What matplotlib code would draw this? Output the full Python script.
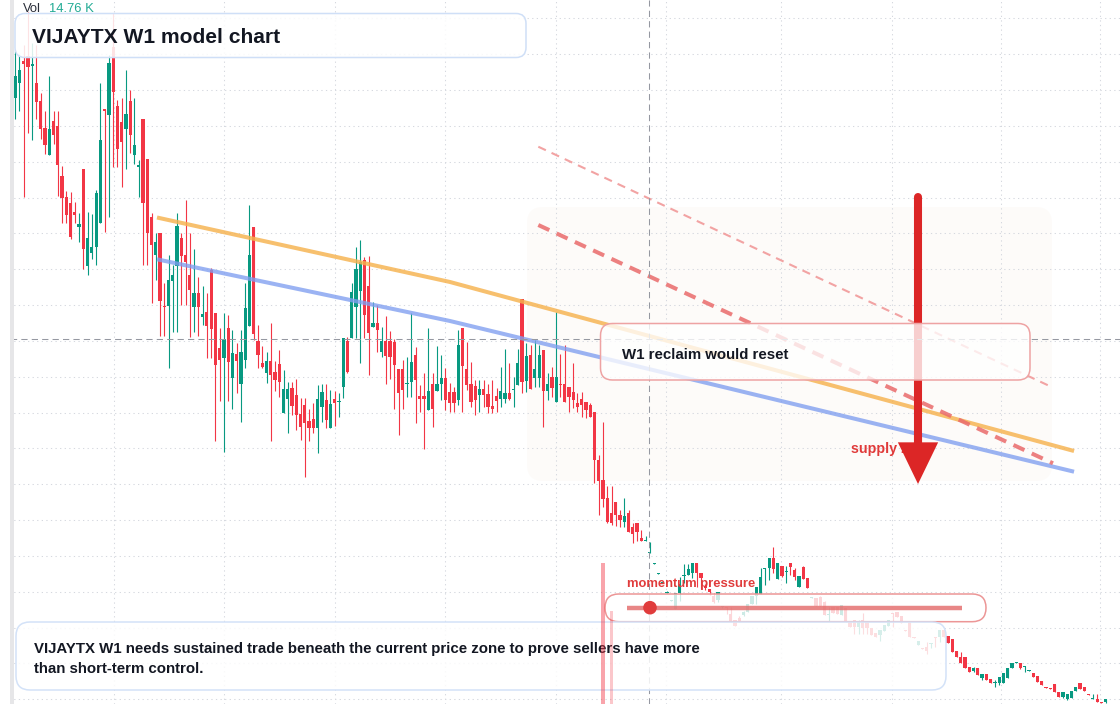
import numpy as np
import matplotlib
matplotlib.use("Agg")
import matplotlib.pyplot as plt
from matplotlib.patches import FancyBboxPatch, Rectangle, Circle, FancyArrowPatch
from matplotlib.colors import to_rgba

# ---------------- data (weekly candles, arbitrary price units) ----------------
opens = [62.2, 63.7, 65.9, 66.4, 65.4, 63.7, 61.9, 59.2, 56.5, 59.9,
         59.4, 54.4, 52.3, 51.7, 50.8, 49.3, 55.1, 45.4, 46.7, 47.3,
         49.7, 61.1, 60.5, 67.3, 61.4, 59.8, 59.1, 61.9, 56.5, 55.3,
         60.1, 56.1, 50.3, 46.5, 48.7, 41.4, 41.4, 43.9, 45.4, 48.2,
         46.5, 44.5, 41.3, 42.7, 40.3, 40.8, 45.0, 40.7, 37.2, 36.2,
         39.2, 34.2, 36.6, 33.6, 36.0, 39.4, 49.3, 37.9, 35.7, 34.7,
         35.9, 34.8, 35.6, 30.7, 32.1, 33.2, 32.5, 30.6, 31.5, 29.9,
         30.1, 29.2, 31.3, 32.0, 29.2, 32.1, 31.8, 33.3, 37.9, 38.2,
         41.3, 42.9, 46.0, 43.4, 39.3, 39.7, 36.8, 37.9, 37.9, 37.8,
         35.1, 35.1, 33.6, 33.8, 36.5, 32.4, 32.4, 31.0, 33.6, 32.9,
         33.6, 34.2, 32.8, 32.8, 32.0, 39.2, 35.1, 33.6, 33.4, 32.5,
         33.1, 32.6, 31.4, 32.4, 32.1, 32.1, 32.7, 33.0, 33.5, 42.1,
         33.9, 36.5, 34.2, 34.2, 37.0, 32.9, 34.3, 31.8, 33.6, 33.6,
         33.3, 32.8, 31.7, 32.1, 31.8, 31.5, 30.8, 26.0, 24.0, 22.2,
         20.7, 21.8, 20.5, 19.8, 20.7, 19.3, 19.7, 18.2, 17.9, 16.7,
         15.6, 14.6, 13.7, 12.7, 11.9, 11.1, 12.7, 14.4, 14.5, 14.7,
         15.7, 14.7, 13.4, 13.1, 12.4, 12.0, 11.3, 11.3, 10.6, 10.0,
         10.2, 10.5, 10.8, 11.6, 12.4, 12.6, 15.1, 15.2, 16.2, 14.1,
         15.4, 14.8, 15.7, 15.0, 13.3, 15.3, 14.2, 12.2, 12.2, 12.3,
         11.8, 10.5, 11.3, 11.3, 10.5, 11.2, 9.8, 10.0, 9.3, 10.0,
         9.9, 9.2, 8.7, 8.5, 8.9, 9.4, 10.7, 10.8, 10.4, 9.0,
         9.8, 8.3, 7.5, 7.2, 7.3, 7.6, 8.3, 8.3, 9.0, 8.4,
         8.1, 6.9, 6.3, 6.3, 5.3, 4.9, 5.2, 4.2, 4.6, 4.1,
         3.7, 3.7, 3.7, 4.2, 5.2, 5.7, 5.7, 5.3, 4.9, 4.7,
         4.4, 3.9, 3.3, 3.2, 3.6, 2.8, 2.3, 2.1, 2.2, 2.9,
         3.7, 3.3, 2.6, 2.1, 2.1, 1.8, 1.8]

highs = [67.0, 66.5, 67.5, 70.8, 67.7, 67.5, 62.7, 60.9, 64.4, 60.9,
         60.9, 55.4, 52.9, 52.8, 51.8, 50.7, 55.1, 50.8, 50.6, 53.0,
         63.7, 61.1, 66.5, 70.7, 62.0, 62.2, 65.0, 63.0, 62.2, 56.0,
         60.1, 56.1, 50.7, 48.7, 48.7, 43.7, 46.5, 45.5, 50.7, 48.7,
         52.0, 48.7, 47.1, 44.3, 43.4, 42.7, 45.2, 40.7, 39.2, 40.7,
         40.5, 39.0, 37.7, 39.0, 43.7, 51.5, 49.3, 39.5, 37.4, 36.8,
         39.7, 35.9, 37.0, 35.0, 33.8, 33.8, 34.1, 32.2, 32.2, 31.1,
         31.7, 33.5, 33.6, 33.6, 33.0, 32.9, 32.7, 38.2, 38.3, 43.7,
         47.3, 48.0, 46.3, 46.4, 41.8, 41.5, 39.3, 40.4, 38.9, 38.1,
         35.1, 36.0, 36.3, 40.7, 37.3, 33.5, 34.7, 39.2, 34.7, 37.4,
         36.5, 35.2, 33.7, 33.3, 39.0, 39.2, 37.8, 35.8, 34.0, 34.0,
         34.0, 33.6, 34.0, 33.2, 35.3, 37.1, 35.7, 34.3, 37.1, 42.1,
         37.7, 37.5, 38.0, 37.5, 37.0, 34.7, 35.3, 40.8, 36.6, 37.5,
         33.3, 35.7, 32.7, 32.8, 31.8, 31.7, 30.8, 26.5, 29.8, 23.4,
         23.4, 21.8, 21.0, 22.2, 21.0, 19.7, 19.7, 19.0, 18.4, 17.8,
         15.7, 14.7, 13.8, 12.9, 12.0, 12.7, 14.3, 15.6, 15.6, 15.7,
         15.7, 14.7, 13.6, 13.1, 12.7, 12.8, 11.4, 11.3, 11.3, 10.0,
         10.4, 10.9, 11.6, 12.4, 13.3, 15.2, 15.2, 16.2, 17.3, 15.7,
         15.4, 15.4, 15.7, 15.2, 14.4, 15.4, 14.2, 12.3, 12.2, 12.4,
         11.9, 11.3, 11.3, 11.3, 11.5, 11.2, 9.8, 10.0, 10.0, 10.7,
         9.9, 9.2, 8.7, 9.0, 9.5, 10.0, 10.7, 10.8, 10.4, 9.0,
         9.8, 8.3, 7.9, 7.2, 7.8, 7.7, 8.3, 9.0, 9.0, 8.4,
         8.1, 6.9, 6.8, 6.3, 5.3, 5.3, 5.2, 4.6, 4.6, 4.1,
         4.0, 4.3, 4.7, 5.2, 5.7, 5.8, 5.7, 5.4, 5.0, 4.7,
         4.4, 3.9, 3.3, 3.2, 3.6, 2.8, 2.8, 2.6, 2.9, 3.3,
         3.7, 3.3, 2.6, 2.6, 2.6, 1.8, 2.1]

lows = [60.1, 60.9, 52.3, 58.7, 58.0, 60.1, 58.1, 56.6, 56.5, 57.6,
        52.4, 49.7, 49.7, 48.1, 49.7, 47.8, 45.1, 44.5, 46.1, 45.5,
        49.7, 48.8, 50.3, 55.3, 55.3, 53.3, 55.1, 56.7, 55.6, 52.3,
        45.5, 45.5, 41.7, 44.0, 38.4, 38.4, 35.2, 38.8, 38.8, 41.5,
        41.5, 38.3, 38.8, 38.4, 39.5, 36.2, 36.2, 27.9, 31.9, 26.8,
        31.9, 31.1, 32.7, 29.8, 35.2, 39.4, 38.0, 35.2, 35.2, 33.7,
        27.9, 32.9, 32.3, 30.7, 28.7, 30.5, 29.0, 28.0, 24.3, 27.9,
        28.7, 26.7, 29.8, 29.2, 29.2, 29.4, 30.3, 32.2, 34.7, 38.2,
        38.2, 35.7, 38.2, 34.5, 39.3, 36.8, 36.3, 33.6, 34.1, 31.1,
        28.5, 31.1, 32.3, 32.3, 29.7, 30.8, 27.1, 31.0, 29.3, 32.9,
        32.0, 31.0, 30.8, 30.8, 31.5, 30.8, 33.0, 31.3, 30.5, 30.8,
        31.3, 30.7, 30.7, 30.8, 31.3, 31.7, 32.0, 31.3, 33.5, 32.7,
        32.8, 33.1, 33.3, 33.3, 29.3, 32.0, 32.3, 31.8, 32.3, 31.8,
        30.8, 31.2, 30.8, 30.3, 30.2, 30.3, 23.7, 20.5, 21.3, 19.7,
        19.5, 19.4, 19.3, 19.3, 18.8, 17.7, 17.9, 17.9, 17.9, 16.7,
        15.6, 14.6, 13.7, 12.7, 11.9, 11.1, 11.9, 13.7, 14.5, 14.2,
        13.3, 13.1, 13.0, 12.5, 11.7, 11.8, 11.2, 10.6, 9.8, 9.4,
        9.8, 10.4, 10.8, 11.6, 11.6, 12.6, 13.5, 14.0, 14.7, 14.1,
        14.3, 13.7, 14.5, 14.0, 13.3, 14.1, 13.2, 12.2, 11.4, 11.4,
        10.5, 9.9, 10.7, 10.6, 10.5, 9.8, 9.3, 8.6, 8.6, 8.6,
        8.6, 8.5, 8.3, 7.9, 8.9, 9.4, 9.3, 10.3, 9.7, 8.9,
        8.3, 8.2, 7.5, 7.1, 6.6, 7.2, 7.3, 7.8, 8.3, 7.7,
        6.8, 6.3, 5.7, 5.2, 4.8, 4.8, 4.5, 4.0, 4.0, 3.7,
        3.3, 3.5, 3.7, 4.2, 5.2, 5.7, 5.1, 4.8, 4.9, 4.3,
        3.8, 3.5, 3.2, 3.1, 2.8, 2.3, 2.2, 2.0, 2.2, 2.9,
        3.1, 2.9, 2.5, 2.1, 1.8, 1.7, 1.7]

closes = [64.4, 65.0, 65.6, 65.3, 65.6, 61.8, 59.1, 57.5, 59.1, 58.5,
          55.5, 52.2, 50.5, 48.3, 50.5, 49.6, 47.1, 48.2, 47.3, 52.7,
          58.0, 60.9, 65.7, 62.8, 57.1, 57.8, 60.6, 58.5, 57.5, 55.5,
          51.7, 48.7, 47.5, 47.8, 41.9, 41.3, 44.0, 44.5, 49.4, 46.4,
          45.8, 43.0, 42.7, 41.3, 40.6, 39.4, 39.1, 35.5, 36.0, 38.1,
          35.8, 36.7, 35.9, 36.8, 41.2, 46.5, 38.6, 36.5, 35.3, 35.9,
          34.5, 34.0, 33.8, 33.1, 33.1, 31.4, 30.5, 29.3, 29.7, 29.2,
          29.2, 32.1, 32.8, 30.0, 31.6, 31.7, 31.9, 38.2, 34.8, 42.8,
          45.1, 45.8, 40.5, 38.7, 39.7, 39.0, 37.9, 36.4, 36.3, 35.5,
          32.7, 33.0, 33.7, 35.8, 34.0, 32.1, 32.1, 32.9, 31.1, 33.6,
          34.2, 32.0, 31.7, 31.7, 37.5, 35.4, 33.5, 31.8, 32.0, 33.1,
          32.5, 31.3, 31.1, 31.9, 32.9, 32.7, 32.1, 33.1, 35.7, 33.8,
          36.4, 33.1, 35.1, 36.5, 32.9, 33.6, 33.2, 34.3, 33.5, 31.8,
          32.3, 32.0, 31.3, 31.5, 31.0, 30.3, 26.0, 23.9, 22.1, 19.8,
          19.7, 20.5, 20.0, 20.4, 18.8, 18.6, 18.8, 17.9, 18.0, 16.8,
          15.7, 14.7, 13.8, 12.8, 12.0, 12.7, 13.6, 14.5, 15.1, 15.7,
          14.7, 14.2, 13.2, 12.8, 11.8, 12.8, 11.4, 11.2, 9.8, 9.4,
          9.9, 10.8, 11.6, 12.4, 13.3, 14.3, 15.2, 16.2, 15.1, 15.7,
          14.4, 14.9, 15.3, 14.3, 14.4, 14.1, 13.2, 12.3, 11.4, 11.4,
          10.5, 10.6, 10.7, 10.6, 11.5, 9.8, 9.3, 9.3, 9.8, 9.2,
          9.2, 8.5, 8.3, 9.0, 9.5, 10.0, 10.6, 10.3, 9.7, 8.9,
          8.3, 8.2, 7.9, 7.1, 6.9, 7.7, 8.2, 9.0, 8.3, 7.7,
          6.8, 6.3, 5.7, 5.2, 4.8, 5.2, 4.5, 4.6, 4.0, 3.7,
          3.8, 4.3, 4.7, 5.2, 5.7, 5.8, 5.2, 5.4, 5.0, 4.3,
          3.8, 3.5, 3.2, 3.1, 2.8, 2.3, 2.8, 2.6, 2.9, 3.3,
          3.1, 2.9, 2.5, 2.2, 1.8, 1.7, 2.1]

# volume (thousands) of the only visible volume bars
vol_idx = [138, 140]
vol_k = [95.2, 62.7]

# drawn studies, anchored at (bar index, price)
orange_bars = [33.29, 102.08, 248.58]
orange_px = [50.25, 43.8, 26.9]
blue_bars = [33.29, 102.08, 248.58]
blue_px = [46.07, 39.9, 24.83]
dash_light_bars = [122.81, 243.17]
dash_light_px = [57.33, 33.33]
dash_dark_bars = [122.81, 243.64]
dash_dark_px = [49.5, 25.67]
arrow_bar = 211.95
arrow_top, arrow_head_base, arrow_tip = 52.3, 27.6, 23.6
cross_bar, cross_price = 148.9, 38.15

# time-axis grid positions (bar index) and price grid
time_grid = [23.31, 49.02, 75.08, 101.02, 126.85, 152.90, 179.67, 205.73, 231.55, 254.56]
price_grid = 2.07 + 3.584 * np.arange(0, 20)

title = "VIJAYTX W1 model chart"
box_label = "W1 reclaim would reset"
zone_label = "supply zone"
momentum_label = "momentum pressure"
note_lines = ["VIJAYTX W1 needs sustained trade beneath the current price zone to prove sellers have more",
              "than short-term control."]
vol_label, vol_value = "Vol", "14.76 K"

# ---------------- drawing ----------------
plt.rcParams['font.family'] = ['Liberation Sans', 'DejaVu Sans']
W, H = 1120, 704
fig = plt.figure(figsize=(W / 100, H / 100), dpi=100)

o = np.array(opens); h = np.array(highs); l = np.array(lows); c = np.array(closes)
assert len(o) == len(h) == len(l) == len(c), (len(o), len(h), len(l), len(c))
n = len(o)
xs = np.arange(n)
h = np.maximum(h, np.maximum(o, c))
l = np.minimum(l, np.minimum(o, c))

GREEN = '#089981'
RED = '#f23645'

ax = fig.add_axes([0, 0, 1, 1])
ax.set_xlim(-3.568, 259.37)
ax.set_ylim(1.6, 72.0)
ax.set_xticks(time_grid)
ax.set_yticks(price_grid)
ax.tick_params(length=0, labelbottom=False, labelleft=False)
for s in ax.spines.values():
    s.set_visible(False)
ax.set_axisbelow(True)
ax.grid(True, color='#d5d8df', lw=0.75, linestyle=(0, (1.2, 3.2)))

# pixel overlay axes
ov = fig.add_axes([0, 0, 1, 1])
ov.set_xlim(0, W)
ov.set_ylim(H, 0)
ov.axis('off')
pix = ov.transData

# faint study zone behind the candles
ax.add_patch(FancyBboxPatch((527, 207), 525, 274, boxstyle='round,pad=0,rounding_size=16',
                            transform=pix, fc=to_rgba('#f5e6da', 0.14), ec='none', zorder=0.5))

up = c >= o
col = np.where(up, GREEN, RED)
ax.vlines(xs, l, h, colors=col, lw=0.8, zorder=2)
ax.bar(xs, np.maximum(np.abs(c - o), 0.12), bottom=np.minimum(o, c), width=0.76,
       color=col, lw=0, zorder=2.1)

# trend lines
ax.plot(orange_bars, orange_px, color='#f6b24e', lw=2.9, alpha=0.82, zorder=3, solid_capstyle='butt')
ax.plot(blue_bars, blue_px, color='#7f9ef0', lw=2.9, alpha=0.78, zorder=3, solid_capstyle='butt')
ax.plot(dash_light_bars, dash_light_px, color='#f2a3a3', lw=1.5, dashes=(4, 3), zorder=3)
ax.plot(dash_dark_bars, dash_dark_px, color='#ea6b6b', lw=2.9, alpha=0.85, dashes=(3, 2), zorder=3)

# supply zone text under the arrow
ax.text(851, 453, zone_label, transform=pix, fontsize=10.3, fontweight='bold',
        color='#e03a3a', va='baseline', zorder=3.5)

# arrow: shaft with round cap + filled head
ax.plot([arrow_bar, arrow_bar], [arrow_top, arrow_head_base], color='#dc2626', lw=5.8,
        solid_capstyle='round', zorder=4)
ax.add_patch(FancyArrowPatch((arrow_bar, arrow_head_base + 1.0), (arrow_bar, arrow_tip),
                             arrowstyle='simple,head_length=30,head_width=29,tail_width=5.8',
                             mutation_scale=1, color='#dc2626', lw=0, shrinkA=0, shrinkB=0, zorder=4))

# crosshair
ax.axvline(cross_bar, color='#9598a1', lw=0.75, dashes=(6, 4), zorder=4.5)
ax.axhline(cross_price, color='#9598a1', lw=0.75, dashes=(6, 4), zorder=4.5)

# ---- overlay widgets (pixel space) ----
ov.add_patch(Rectangle((0, 0), 10, H, fc='white', ec='none', zorder=1))
ov.add_patch(Rectangle((10, 0), 4, H, fc='#e6e6e8', ec='none', zorder=1))


def rbox(x0, y0, x1, y1, r, fc, ec, lw=1.1, z=5):
    ov.add_patch(FancyBboxPatch((x0, y0), x1 - x0, y1 - y0,
                                boxstyle=f'round,pad=0,rounding_size={r}',
                                fc=fc, ec=ec, lw=lw, zorder=z))


rbox(15, 13.5, 526, 57.5, 10, to_rgba('white', 0.86), '#cfdff7')
rbox(600.5, 323.5, 1030, 380, 12, to_rgba('white', 0.78), '#eea3a3')
rbox(605, 594, 986, 621.7, 13.8, to_rgba('white', 0.8), '#ec9696')
rbox(16, 622, 946, 690, 14, to_rgba('white', 0.84), '#d3e2f8')

ov.plot([627, 962], [607.7, 607.7], color='#e36868', lw=3.2, alpha=0.8, zorder=6, solid_capstyle='butt')
ov.add_patch(Circle((650, 607.7), 6.8, fc='#e03c3c', ec='none', zorder=6.5))

ov.text(23, 12.5, vol_label, fontsize=9.4, color='#2a2e39', va='baseline', zorder=7)
ov.text(49, 12.5, vol_value, fontsize=9.4, color='#22ab94', va='baseline', zorder=7)
ov.text(32, 43.3, title, fontsize=15.1, fontweight='bold', color='#131722', va='baseline', zorder=7)
ov.text(622, 359.3, box_label, fontsize=10.8, fontweight='bold', color='#131722', va='baseline', zorder=7)
ov.text(627, 587, momentum_label, fontsize=9.4, fontweight='bold', color='#e03c3c', va='baseline', zorder=7)
ov.text(34, 653, note_lines[0], fontsize=10.8, fontweight='bold', color='#131722', va='baseline', zorder=7)
ov.text(34, 673, note_lines[1], fontsize=10.8, fontweight='bold', color='#131722', va='baseline', zorder=7)

# volume pane on top (first bar solid, second shows through the note)
vax = fig.add_axes([0, 0, 1, 1], sharex=ax)
vax.set_ylim(0, 475.3)
vax.axis('off')
vax.bar(vol_idx, vol_k, width=0.8, color=RED, lw=0, alpha=0.45)
vax.patches[1].set_alpha(0.28)

fig.savefig('out.png', dpi=100)
